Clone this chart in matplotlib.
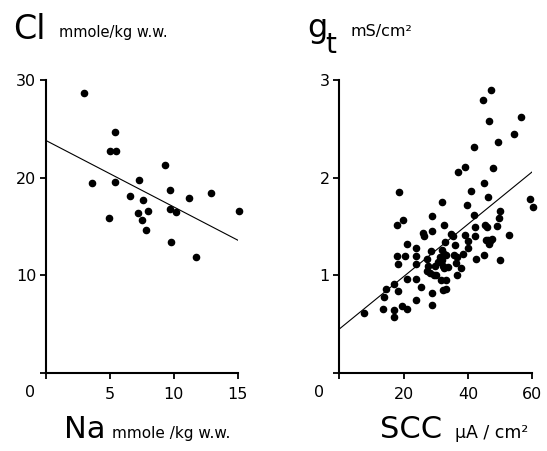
import matplotlib
matplotlib.use('Agg')
import matplotlib.pyplot as plt

plt.rcParams['font.family'] = ['DejaVu Sans']

# panel A: Cl vs Na
na = [3.0, 3.6, 5.4, 5.0, 5.5, 5.4, 4.9, 6.6, 7.3, 7.6, 7.2, 7.5, 8.0, 7.8,
      9.3, 9.7, 9.7, 10.2, 9.8, 11.2, 11.7, 12.9, 15.1]
cl = [28.7, 19.5, 24.7, 22.7, 22.7, 19.6, 15.9, 18.1, 19.8, 17.7, 16.4, 15.7,
      16.6, 14.6, 21.3, 18.7, 16.8, 16.5, 13.4, 17.9, 11.9, 18.4, 16.6]
na_fit = [0, 15]
cl_fit = [23.8, 13.6]

# panel B: g_t vs SCC
scc = [7.8, 13.7, 13.9, 14.5, 16.9, 17.0, 17.1, 18.4, 18.0, 18.1, 17.9, 18.7,
       19.5, 19.7, 20.5, 20.9, 21.0, 21.1, 24.0, 24.0, 24.0, 23.8, 24.0, 25.4,
       26.1, 26.2, 27.4, 27.3, 27.6, 28.6, 28.8, 28.7, 28.9, 28.9, 28.2, 29.5,
       30.2, 29.6, 30.8, 31.3, 32.0, 32.5, 32.8, 32.0, 32.5, 33.1, 31.8, 32.1,
       32.6, 33.8, 31.7, 33.1, 32.3, 33.1, 34.6, 35.4, 36.0, 35.6, 36.5, 36.2,
       37.7, 36.5, 36.8, 38.4, 39.1, 39.1, 39.6, 40.1, 40.1, 40.9, 41.9, 41.9,
       42.2, 42.2, 42.4, 44.7, 45.0, 44.9, 45.4, 45.5, 45.8, 46.3, 46.5, 46.6,
       47.3, 47.4, 47.9, 48.9, 49.2, 49.9, 49.7, 49.9, 52.7, 54.3, 56.6, 59.3,
       60.2, 46.2, 46.9]
gt = [0.61, 0.66, 0.78, 0.86, 0.91, 0.64, 0.57, 0.84, 1.20, 1.12, 1.51, 1.85,
      0.69, 1.57, 1.20, 0.96, 0.66, 1.32, 1.28, 1.20, 1.12, 0.96, 0.75, 0.88,
      1.43, 1.40, 1.17, 1.04, 1.10, 1.25, 1.45, 1.61, 0.82, 0.70, 1.02, 1.00,
      1.00, 1.10, 1.14, 1.19, 1.75, 1.52, 1.34, 1.26, 1.22, 1.21, 1.16, 1.10,
      1.07, 1.08, 0.95, 0.95, 0.85, 0.86, 1.42, 1.40, 1.31, 1.21, 1.19, 1.13,
      1.07, 1.00, 2.06, 1.22, 2.11, 1.41, 1.72, 1.35, 1.28, 1.86, 2.31, 1.62,
      1.49, 1.40, 1.17, 2.79, 1.94, 1.21, 1.51, 1.36, 1.49, 1.80, 2.58, 1.32,
      2.90, 1.37, 2.10, 1.50, 2.36, 1.66, 1.59, 1.16, 1.41, 2.45, 2.62, 1.78,
      1.70, 1.36, 1.35]
scc_fit = [0, 60]
gt_fit = [0.45, 2.06]

fig = plt.figure(figsize=(5.47, 4.51), dpi=100)
ax1 = fig.add_axes([0.0841, 0.173, 0.3505, 0.6497])
ax2 = fig.add_axes([0.6203, 0.173, 0.3528, 0.6497])

def style(ax, xt, yt, xmax, ymax, zero_x):
    ax.set_xlim(0, xmax)
    ax.set_ylim(0, ymax)
    for s in ['top', 'right']:
        ax.spines[s].set_visible(False)
    for s in ['left', 'bottom']:
        ax.spines[s].set_linewidth(1.5)
    ax.set_xticks(xt)
    ax.set_xticklabels([''] + [str(v) for v in xt[1:]])
    ax.set_yticks(yt)
    ax.set_yticklabels([''] + [str(v) for v in yt[1:]])
    ax.tick_params(direction='out', length=4, width=1.3, labelsize=11.5)
    ax.tick_params(axis='x', pad=6)
    ax.tick_params(axis='y', pad=3)
    # the shared "0" sits at the lower-left corner
    ax.text(zero_x, -0.065, '0', transform=ax.transAxes, fontsize=11.5,
            ha='center', va='center')

ax1.scatter(na, cl, s=20, color='black', clip_on=False, zorder=3)
ax1.plot(na_fit, cl_fit, color='black', lw=0.8)
style(ax1, [0, 5, 10, 15], [0, 10, 20, 30], 15, 30, -0.082)

ax2.scatter(scc, gt, s=20, color='black', clip_on=False, zorder=3)
ax2.plot(scc_fit, gt_fit, color='black', lw=0.8)
style(ax2, [0, 20, 40, 60], [0, 1, 2, 3], 60, 3, -0.105)

# titles and axis labels
fig.text(0.024, 0.9135, 'Cl', fontsize=24, va='baseline')
fig.text(0.108, 0.918, 'mmole/kg w.w.', fontsize=10.5, va='baseline')
fig.text(0.561, 0.918, 'g', fontsize=23, va='baseline')
fig.text(0.594, 0.8825, 't', fontsize=20, va='baseline')
fig.text(0.64, 0.92, 'mS/cm²', fontsize=11.5, va='baseline')

fig.text(0.117, 0.029, 'Na', fontsize=22, va='baseline')
fig.text(0.205, 0.029, 'mmole /kg w.w.', fontsize=11, va='baseline')
fig.text(0.695, 0.029, 'SCC', fontsize=22, va='baseline')
fig.text(0.832, 0.029, 'μA / cm²', fontsize=12.5, va='baseline')

plt.savefig('out.png', dpi=100)
